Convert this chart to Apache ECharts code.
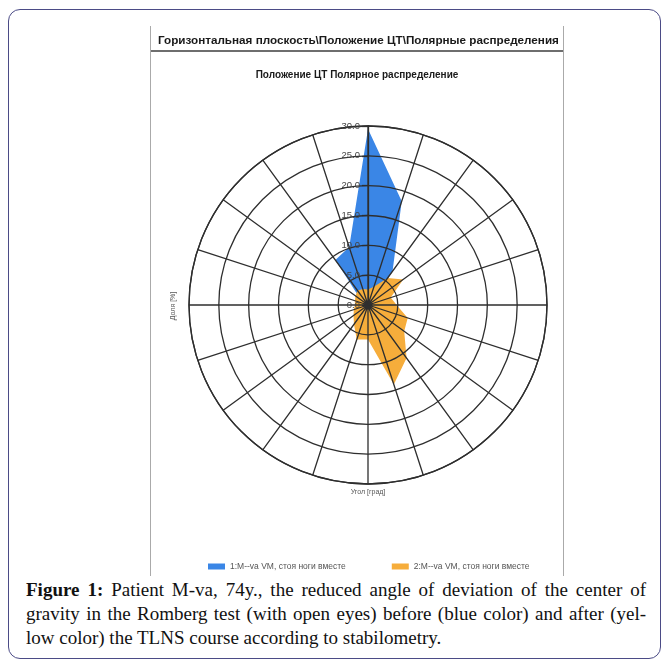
<!DOCTYPE html>
<html>
<head>
<meta charset="utf-8">
<script src="https://cdn.jsdelivr.net/npm/echarts@6/dist/echarts.min.js"></script>
<style>
  body { margin: 0; background: #fff; width: 667px; height: 666px; position: relative; overflow: hidden; }
  .frame { position: absolute; left: 8px; top: 9px; width: 653px; height: 650px; border: 1.5px solid #4b4b86; border-radius: 12px; box-sizing: border-box; }
  #chart { position: absolute; left: 150px; top: 26px; width: 414px; height: 550px; border-left: 1px solid #aaa; border-right: 1px solid #aaa; box-sizing: border-box; }
  .caption { position: absolute; left: 26px; top: 578px; width: 620px; font-family: "Liberation Serif", serif; font-size: 19px; line-height: 24px; color: #111; }
  .caption div { text-align: justify; text-align-last: justify; white-space: nowrap; }
  .caption div.last { text-align-last: left; }
</style>
</head>
<body>
<div class="frame"></div>
<div id="chart"></div>
<div class="caption">
  <div><b>Figure 1:</b> Patient M-va, 74y., the reduced angle of deviation of the center of</div>
  <div>gravity in the Romberg test (with open eyes) before (blue color) and after (yel-</div>
  <div class="last">low color) the TLNS course according to stabilometry.</div>
</div>
<script>
// directions, degrees clockwise from top
const angles = [0, 18, 36, 54, 72, 90, 108, 126, 144, 162, 180, 198, 216, 234, 252, 270, 288, 306, 324, 342];
const beforeValues = [29.5, 18.3, 7.0, 1.0, 0.5, 0.5, 0.5, 0.5, 0.5, 0.5, 0.5, 0.5, 0.5, 0.5, 0.5, 0.5, 0.5, 1.5, 9.3, 10.2];
const afterValues = [2.6, 3.2, 5.6, 7.3, 4.0, 4.8, 7.0, 7.5, 11.0, 14.0, 5.8, 6.1, 4.0, 3.0, 2.5, 2.2, 2.3, 2.6, 3.0, 2.8];
const seriesNames = ['1:M--va VM, стоя ноги вместе', '2:M--va VM, стоя ноги вместе'];

// polar data is [radius, angle]; repeat first point to close the shape
const toPolar = vals => vals.map((v, i) => [v, angles[i]]).concat([[vals[0], 360]]);

const chart = echarts.init(document.getElementById('chart'));
const gridColor = '#2e2e2e';

chart.setOption({
    animation: false,
    color: ['#3a86e6', '#f6ad3b'],
    title: [
        {
            text: 'Горизонтальная плоскость\\Положение ЦТ\\Полярные распределения',
            left: 2, top: 4,
            textStyle: {fontFamily: 'Liberation Sans', fontSize: 11.7, fontWeight: 'bold', color: '#1a1a1a'},
        },
        {
            text: 'Положение ЦТ Полярное распределение',
            left: 'center', top: 39,
            textStyle: {fontFamily: 'Liberation Sans', fontSize: 10, fontWeight: 'bold', color: '#1a1a1a'},
        },
    ],
    graphic: [
        {type: 'rect', shape: {x: 0, y: 24, width: 414, height: 2}, style: {fill: '#6e6e6e'}},
        {
            type: 'text', x: 22, y: 280, rotation: Math.PI / 2,
            style: {text: 'Доля [%]', fontSize: 7, fill: '#555', align: 'center', verticalAlign: 'middle', fontFamily: 'Liberation Sans'},
        },
        {
            type: 'text', x: 217, y: 466,
            style: {text: 'Угол [град]', fontSize: 7, fill: '#555', align: 'center', verticalAlign: 'middle', fontFamily: 'Liberation Sans'},
        },
    ],
    legend: {
        left: 52, top: 531,
        itemWidth: 17, itemHeight: 6, itemGap: 46,
        icon: 'rect',
        textStyle: {fontSize: 8.5, color: '#555', fontFamily: 'Liberation Sans'},
        data: seriesNames,
    },
    polar: {center: [217, 279], radius: 179},
    angleAxis: {
        type: 'value', min: 0, max: 360, interval: 18,
        startAngle: 90, clockwise: true, z: 5,
        axisLine: {lineStyle: {color: gridColor, width: 1.3}},
        axisTick: {show: false},
        axisLabel: {show: false},
        splitLine: {lineStyle: {color: gridColor, width: 1.3}},
    },
    radiusAxis: {
        type: 'value', min: 0, max: 30, interval: 5, z: 5,
        axisLine: {lineStyle: {color: gridColor, width: 1.3}},
        axisTick: {length: 6, lineStyle: {color: gridColor, width: 1.3}},
        axisLabel: {fontSize: 9.5, color: '#444', formatter: v => v.toFixed(1), fontFamily: 'Liberation Sans'},
        splitLine: {lineStyle: {color: gridColor, width: 1.3}},
    },
    series: [
        {
            name: seriesNames[0], type: 'line', coordinateSystem: 'polar', z: 1,
            symbol: 'none', lineStyle: {width: 0}, areaStyle: {opacity: 1},
            data: toPolar(beforeValues),
        },
        {
            name: seriesNames[1], type: 'line', coordinateSystem: 'polar', z: 2,
            symbol: 'none', lineStyle: {width: 0}, areaStyle: {opacity: 1},
            data: toPolar(afterValues),
        },
    ],
});
</script>
</body>
</html>
